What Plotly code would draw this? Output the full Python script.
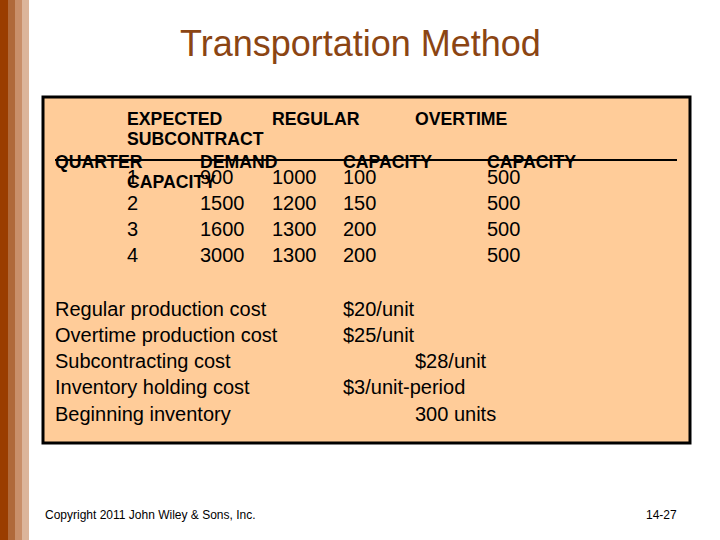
import plotly.graph_objects as go

# slide content
title = "Transportation Method"
header_top = [("EXPECTED", 127), ("REGULAR", 272), ("OVERTIME", 415)]
header_wrap = "SUBCONTRACT"
header_cols = [("QUARTER", 55), ("DEMAND", 200), ("CAPACITY", 343), ("CAPACITY", 487)]
header_last = "CAPACITY"

quarters = [1, 2, 3, 4]
demand = [900, 1500, 1600, 3000]
regular_cap = [1000, 1200, 1300, 1300]
overtime_cap = [100, 150, 200, 200]
subcontract_cap = [500, 500, 500, 500]

cost_labels = ["Regular production cost", "Overtime production cost",
               "Subcontracting cost", "Inventory holding cost", "Beginning inventory"]
cost_values = ["$20/unit", "$25/unit", "$28/unit", "$3/unit-period", "300 units"]
cost_value_x = [343, 343, 415, 343, 415]

footer_left = "Copyright 2011 John Wiley & Sons, Inc."
footer_right = "14-27"

FONT = "Liberation Sans, Arial, sans-serif"
row_y = [177, 203, 229, 255]
col_x = [127, 200, 272, 343, 487]
cost_y = [309, 335, 361, 387, 414]

fig = go.Figure()

shapes = []
# brown stripes on the left edge
for x0, x1, c in [(0, 8, "#9A3D00"), (8, 15, "#B0693A"), (15, 22, "#C98F6A"), (22, 29, "#DCB59B")]:
    shapes.append(dict(type="rect", x0=x0, x1=x1, y0=0, y1=540, fillcolor=c,
                       line=dict(width=0), layer="below"))
# peach box
shapes.append(dict(type="rect", x0=43, x1=690, y0=97, y1=443, fillcolor="#FFCC99",
                   line=dict(color="black", width=3), layer="below"))
# header rule
shapes.append(dict(type="line", x0=55, x1=677, y0=160, y1=160,
                   line=dict(color="black", width=2)))

ann = []


def txt(s, x, y, size, bold=False, color="black", anchor="left"):
    ann.append(dict(x=x, y=y, xref="x", yref="y", text=f"<b>{s}</b>" if bold else s,
                    showarrow=False, xanchor=anchor, yanchor="middle",
                    borderpad=0, borderwidth=0,
                    font=dict(family=FONT, size=size, color=color)))


txt(title, 360, 43, 36, color="#8B4513", anchor="center")

for s, x in header_top:
    txt(s, x, 119, 17.7, bold=True)
txt(header_wrap, 127, 139, 17.7, bold=True)

columns = [quarters, demand, regular_cap, overtime_cap, subcontract_cap]
for col, x in zip(columns, col_x):
    for v, y in zip(col, row_y):
        txt(str(v), x, y, 20)

for s, x in header_cols:
    txt(s, x, 162, 17.7, bold=True)
txt(header_last, 127, 182, 17.7, bold=True)

for lab, val, vx, y in zip(cost_labels, cost_values, cost_value_x, cost_y):
    txt(lab, 55, y, 20)
    txt(val, vx, y, 20)

txt(footer_left, 45, 515, 12)
txt(footer_right, 677, 515, 12, anchor="right")

fig.update_layout(
    width=720, height=540,
    margin=dict(l=0, r=0, t=0, b=0),
    paper_bgcolor="white", plot_bgcolor="white",
    xaxis=dict(range=[0, 720], visible=False, fixedrange=True),
    yaxis=dict(range=[540, 0], visible=False, fixedrange=True),
    shapes=shapes, annotations=ann, showlegend=False,
)

# drop the page's default body margin so the slide sits at the window's corner
fig.write_html("out.html", post_script="document.body.style.margin='0';",
               config={"displayModeBar": False})
